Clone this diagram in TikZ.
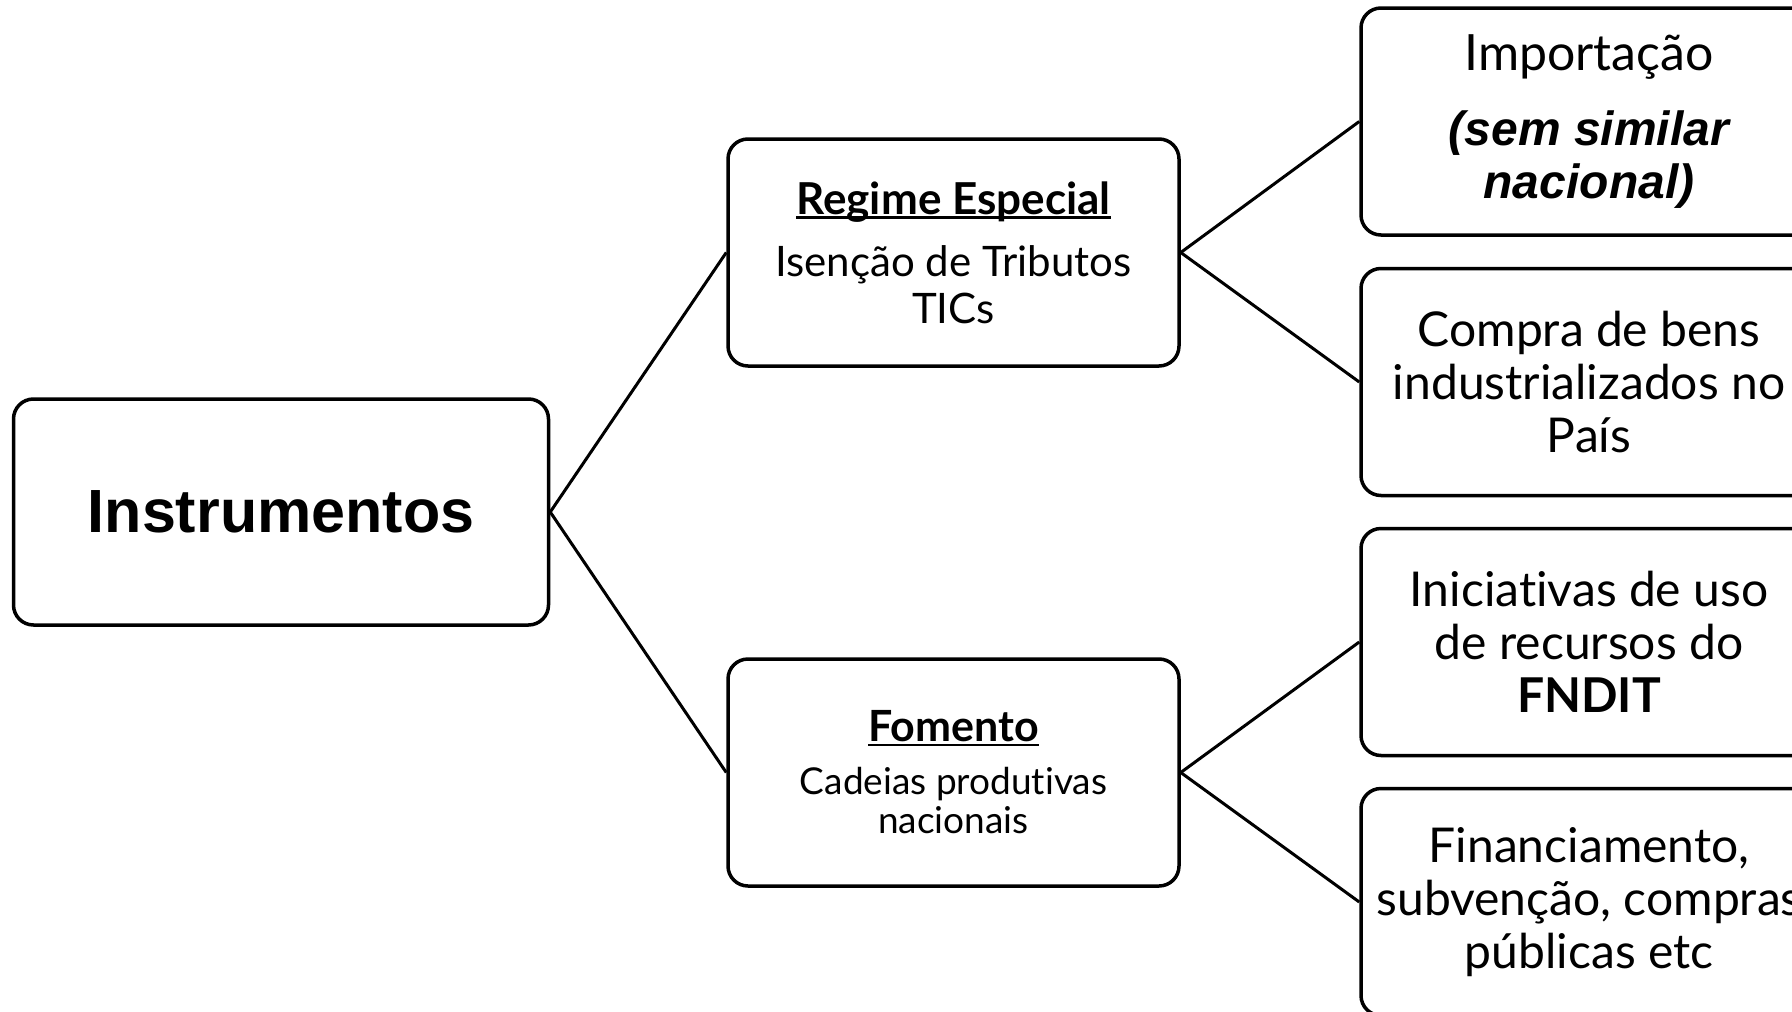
\documentclass[tikz,border=0pt]{standalone}
\usepackage{fontspec}
\setmainfont{Lato}[Ligatures={NoCommon}]
\newfontfamily\arialf{Liberation Sans}
\newcommand\bifont{\arialf\bfseries\itshape\fontsize{48}{52}\selectfont}
\newcommand\myul[1]{\setbox0\hbox{#1}\rlap{\rule[-4.5pt]{\wd0}{2.6pt}}\box0}
\begin{document}
\begin{tikzpicture}[x=1pt,y=-1pt,
  box/.style={draw, line width=3.5pt, rounded corners=20pt, align=center, inner sep=0pt, fill=white},
  link/.style={line width=3pt},
  bigtxt/.style={font=\fontsize{48}{53}\selectfont},
  midtxt/.style={font=\fontsize{42}{47}\selectfont},
  smalltxt/.style={font=\fontsize{37}{39}\selectfont}]
\useasboundingbox (0,0) rectangle (1792,1012);
\fill[white] (0,0) rectangle (1792,1012);
\begin{scope}
\clip (0,0) rectangle (1792,1012);

\node[box, minimum width=535pt, minimum height=226pt, font=\arialf\bfseries\fontsize{61}{70}\selectfont] (instr) at (281,512) {Instrumentos};

\node[box, midtxt, minimum width=451pt, minimum height=227pt] (regime) at (953.5,252.5)
  {\fontsize{44}{47}\selectfont\bfseries\myul{Regime Especial}\\[15pt]Isenção de Tributos\\TICs};
\node[box, smalltxt, minimum width=451pt, minimum height=227pt] (fomento) at (953.5,772.5)
  {\fontsize{43}{47}\selectfont\bfseries\myul{Fomento}\\[14pt]Cadeias produtivas\\nacionais};

\node[box, bigtxt, minimum width=456pt, minimum height=227pt] (imp) at (1589,121.5)
  {\fontsize{50}{53}\selectfont Importação\\[22pt]\bifont (sem similar\\\bifont nacional)};
\node[box, bigtxt, minimum width=456pt, minimum height=227pt] (compra) at (1589,382)
  {Compra de bens\\industrializados no\\País};
\node[box, bigtxt, minimum width=456pt, minimum height=227pt] (inic) at (1589,642)
  {Iniciativas de uso\\de recursos do\\\textbf{FNDIT}};
\node[box, bigtxt, minimum width=456pt, minimum height=227pt] (fin) at (1589,902)
  {Financiamento,\\subvenção, compras\\públicas etc};

\draw[link] (instr.east) -- (regime.west);
\draw[link] (instr.east) -- (fomento.west);
\draw[link] (regime.east) -- (imp.west);
\draw[link] (regime.east) -- (compra.west);
\draw[link] (fomento.east) -- (inic.west);
\draw[link] (fomento.east) -- (fin.west);
\end{scope}
\end{tikzpicture}
\end{document}
